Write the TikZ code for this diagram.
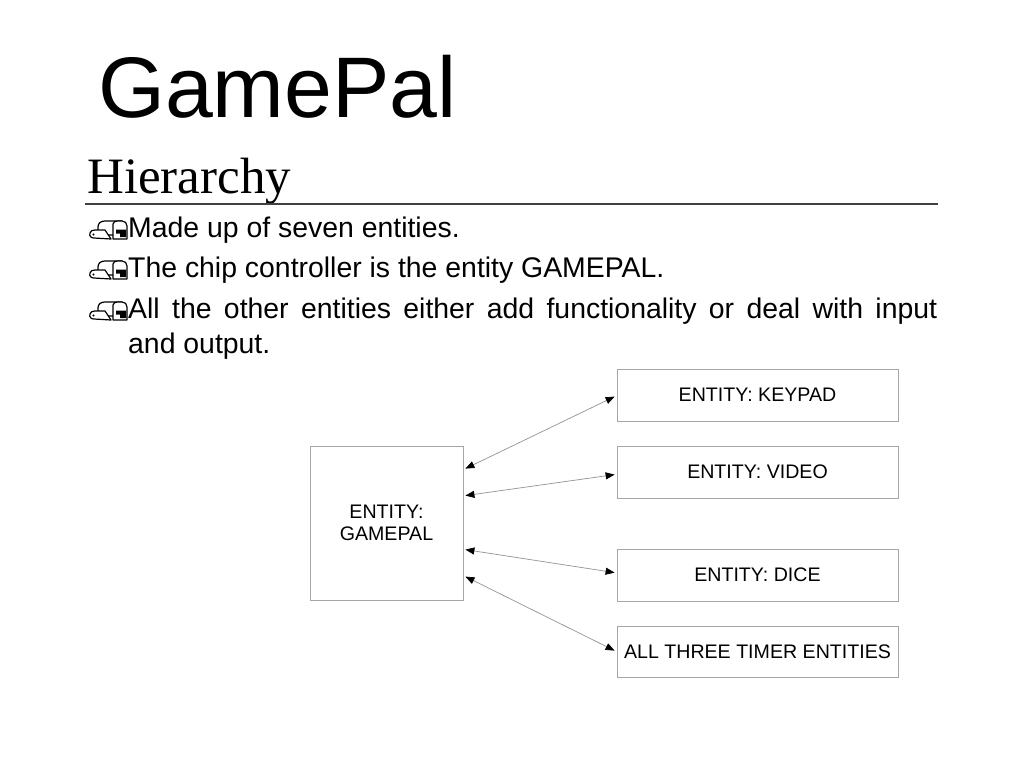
\documentclass[tikz,border=0pt]{standalone}
\usepackage{fontspec}
\setmainfont{Liberation Sans}
\newfontfamily\serifrm{Liberation Serif}
\usetikzlibrary{arrows.meta,calc}
\tikzset{
  entbox/.style={draw=gray!70, line width=0.8pt, minimum width=281pt, minimum height=52pt,
    inner sep=0pt, font=\fontsize{19.6}{22.5}\selectfont, align=center},
  conn/.style={draw=gray!85, line width=0.7pt,
    {Triangle[length=9pt,width=7pt,black]}-{Triangle[length=9pt,width=7pt,black]}},
  bul/.style={anchor=base west, inner sep=0pt, font=\fontsize{28.4}{35}\selectfont},
  mailbox/.pic={
    \begin{scope}[line width=1.2pt, line join=round]
    \draw[fill=white] (9,15) -- (9,7) .. controls (9,3) and (12,1) .. (16,1) -- (33,1) -- (33,15) -- cycle;
    \draw[fill=white] (24,4) .. controls (24,2) and (26,1) .. (30,1) -- (33,1) .. controls (36,1) and (38,3) .. (38,6) -- (38,19) -- (24,19) -- cycle;
    \fill (27,9.5) -- (37,9.5) -- (37,17) -- (31,17) -- (31,13.5) -- (27,13.5) -- cycle;
    \draw[fill=white] (1,13) .. controls (0,16) and (2,18) .. (5,18) -- (22,19) -- (16,10) -- (6,10) .. controls (3,10) and (1.5,11) .. (1,13) -- cycle;
    \fill (4.5,14.5) circle (1.2);
    \end{scope}
  }
}
\begin{document}
\begin{tikzpicture}[x=1pt,y=-1pt]
\useasboundingbox (0,0) rectangle (1024,768);
\fill[white] (0,0) rectangle (1024,768);

\node[anchor=base west, inner sep=0pt, font=\fontsize{86}{90}\selectfont] (title) at (98,117) {GamePal};
\node[anchor=base west, inner sep=0pt, font=\serifrm\fontsize{51}{55}\selectfont] (sub) at (87,193) {Hierarchy};
\draw[line width=1.2pt, black!75] (85,204) -- (938,204);

\pic at (89,220) {mailbox};
\pic at (89,260) {mailbox};
\pic at (89,301) {mailbox};
\node[bul] (b1) at (128,237) {Made up of seven entities.};
\node[bul] (b2) at (128,277) {The chip controller is the entity GAMEPAL.};
\node[bul, text width=809pt, align=justify] (b3) at (128,318) {\noindent All the other entities either add functionality or deal with input\linebreak and output.};

\node[entbox, minimum width=153pt, minimum height=154pt] (gp) at (386.5,523) {ENTITY:\\GAMEPAL};
\node[entbox] (kp) at (757.5,395) {ENTITY: KEYPAD};
\node[entbox] (vd) at (757.5,472) {ENTITY: VIDEO};
\node[entbox] (dc) at (757.5,575) {ENTITY: DICE};
\node[entbox, minimum height=51pt] (tm) at (757.5,651.5) {ALL THREE TIMER ENTITIES};

\draw[conn] ($(gp.north east)+(2,23)$) -- ($(kp.north west)+(-2,28)$);
\draw[conn] ($(gp.north east)+(2,50)$) -- ($(vd.north west)+(-2,29)$);
\draw[conn] ($(gp.north east)+(2,104)$) -- ($(dc.north west)+(-2,24)$);
\draw[conn] ($(gp.north east)+(2,131)$) -- ($(tm.north west)+(-2,25)$);
\end{tikzpicture}
\end{document}
